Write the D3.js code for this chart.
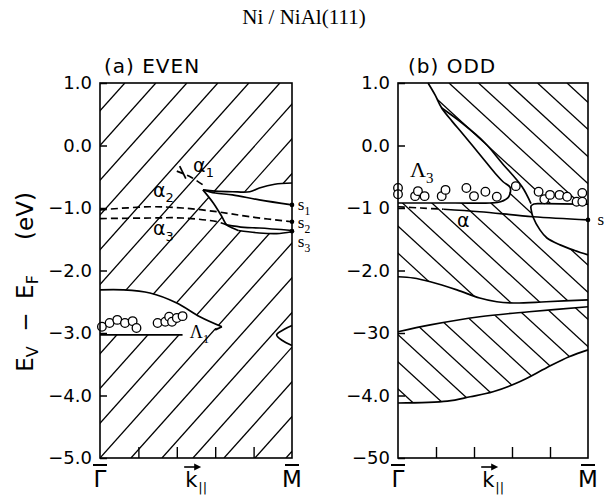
<!DOCTYPE html>
<html>
<head>
<meta charset="utf-8">
<title>Ni/NiAl(111)</title>
<script src="https://cdn.jsdelivr.net/npm/d3@7"></script>
<style>
  body { margin: 0; background: #fff; }
  svg text { font-family: "DejaVu Sans", sans-serif; fill: #000; }
  .serif { font-family: "Liberation Serif", "Times New Roman", serif; }
  .band { fill: none; stroke: #000; stroke-width: 1.7px; stroke-linejoin: round; }
  .dash { stroke-dasharray: 7,4; }
  .hatch line { stroke: #000; stroke-width: 1.3px; }
  .frame { fill: none; stroke: #000; stroke-width: 1.6px; }
  .pt { fill: #fff; stroke: #000; stroke-width: 1.3px; }
</style>
</head>
<body>
<svg id="chart" width="609" height="496"></svg>
<script>
// k runs from Gamma (0) to M (1), energies E_V - E_F in eV
var yTicks = [1, 0, -1, -2, -3, -4, -5];
var tickLabelsEven = ["1.0", "0.0", "−1.0", "−2.0", "−3.0", "−4.0", "−5.0"];
var tickLabelsOdd = ["1.0", "0.0", "−1 0", "−2.0", "−30", "−4.0", "−50"];
var kTicks = [0.2, 0.4, 0.6, 0.8];

// (a) EVEN : gaps in the hatched bulk bands and surface states
var evenGapTop = [[0, -2.31], [0.12, -2.31], [0.26, -2.36], [0.4, -2.52], [0.52, -2.74], [0.635, -2.9]];
var evenGapBottom = [[0, -3.03], [0.43, -3.03]];
var evenGapHook = [[0.635, -2.9], [0.6, -2.95]];
var evenPocketTop = [[0.536, -0.71], [0.6, -0.73], [0.69, -0.74], [0.78, -0.74], [0.83, -0.68], [0.91, -0.62], [1, -0.6]];
var evenPocketLeft = [[0.536, -0.71], [0.59, -0.92], [0.635, -1.14], [0.66, -1.27], [0.69, -1.32], [0.72, -1.36]];
var evenPocketBottom = [[0.72, -1.36], [0.83, -1.4], [0.92, -1.41], [1, -1.38]];
var evenS1 = [[0.536, -0.71], [0.6, -0.76], [0.69, -0.79], [0.83, -0.87], [1, -0.95]];
var evenS3 = [[0.66, -1.27], [0.75, -1.31], [0.83, -1.32], [1, -1.36]];
var evenAlpha1 = [[0.4, -0.41], [0.47, -0.5], [0.55, -0.66]];
var evenAlpha2 = [[0, -1.03], [0.26, -0.98], [0.43, -1.0], [0.61, -1.06], [0.78, -1.14], [1, -1.22]];
var evenAlpha3 = [[0, -1.17], [0.26, -1.16], [0.43, -1.16], [0.61, -1.22], [0.66, -1.27]];
var evenWedge = [[1, -2.88], [0.96, -2.94], [0.92, -3.03], [0.95, -3.12], [1, -3.2]];
var evenSurface = [-0.95, -1.22, -1.37];
var evenK = [0.01, 0.05, 0.09, 0.13, 0.17, 0.19, 0.30, 0.34, 0.36, 0.375, 0.40, 0.43];
var evenE = [-2.90, -2.84, -2.79, -2.84, -2.81, -2.92, -2.84, -2.82, -2.74, -2.82, -2.76, -2.73];

// (b) ODD
var oddCurveA = [[0.158, 1.0], [0.195, 0.81], [0.23, 0.6], [0.284, 0.39], [0.337, 0.2], [0.44, -0.18], [0.51, -0.44],
  [0.553, -0.58], [0.59, -0.67], [0.583, -0.82], [0.54, -0.9], [0.484, -0.92], [0.3, -0.92], [0, -0.92]];
var oddCurveB = [[0.23, 0.6], [0.337, 0.36], [0.458, 0.04], [0.547, -0.28], [0.653, -0.66], [0.70, -0.93]];
var oddPocket = [[1, -0.94], [0.76, -0.93], [0.715, -0.935], [0.70, -0.97], [0.703, -1.06], [0.71, -1.14],
  [0.747, -1.35], [0.784, -1.48], [0.853, -1.59], [0.93, -1.68], [1, -1.75]];
var oddAlpha = [[0, -0.98], [0.12, -1.0], [0.24, -1.02]];
var oddS = [[0.24, -1.02], [0.43, -1.06], [0.71, -1.14], [1, -1.19]];
var oddBand2Bottom = [[0, -2.1], [0.08, -2.12], [0.17, -2.18], [0.31, -2.31], [0.43, -2.44], [0.52, -2.5], [0.61, -2.52], [0.78, -2.5], [1, -2.47]];
var oddBand3Top = [[0, -2.98], [0.17, -2.87], [0.43, -2.74], [0.69, -2.66], [1, -2.58]];
var oddBand3Bottom = [[0, -4.12], [0.26, -4.09], [0.38, -4.02], [0.5, -3.94], [0.64, -3.78], [0.78, -3.56], [0.9, -3.38], [1, -3.27]];
var oddSurface = [-1.19];
var oddK = [0, 0, 0.09, 0.105, 0.14, 0.23, 0.25, 0.36, 0.40, 0.46, 0.52, 0.62, 0.74, 0.77, 0.80, 0.85, 0.89, 0.94, 0.97, 0.97];
var oddE = [-0.68, -0.78, -0.81, -0.73, -0.81, -0.81, -0.71, -0.68, -0.81, -0.74, -0.82, -0.65, -0.74, -0.86, -0.79, -0.79, -0.82, -0.90, -0.76, -0.90];

var svg = d3.select("#chart");
var y = d3.scaleLinear().domain([1, -5]).range([83, 458]);
var xA = d3.scaleLinear().domain([0, 1]).range([100, 292]);
var xB = d3.scaleLinear().domain([0, 1]).range([398, 588]);

function gen(x) {
  return d3.line().x(d => x(d[0])).y(d => y(d[1])).curve(d3.curveCatmullRom.alpha(0.5));
}
function poly(x, parts) {
  var pts = [].concat.apply([], parts);
  return d3.line().x(d => x(d[0])).y(d => y(d[1]))(pts) + "Z";
}
function rev(a) { return a.slice().reverse(); }

var defs = svg.append("defs");

function hatch(x, clipId, slope, sp, ax, ay, dir) {
  var x0 = x.range()[0], x1 = x.range()[1], y0 = y.range()[0], y1 = y.range()[1];
  var cs = [[x0, y0], [x1, y0], [x0, y1], [x1, y1]].map(p => p[0] + dir * p[1] / slope);
  var c0 = ax + dir * ay / slope;
  var lines = [];
  for (var n = Math.floor((d3.min(cs) - c0) / sp); n <= Math.ceil((d3.max(cs) - c0) / sp); n++) {
    var c = c0 + n * sp;
    lines.push([c - dir * y0 / slope, y0, c - dir * y1 / slope, y1]);
  }
  svg.append("g").attr("class", "hatch").attr("clip-path", "url(#" + clipId + ")")
    .selectAll("line").data(lines).join("line")
    .attr("x1", d => d[0]).attr("y1", d => d[1]).attr("x2", d => d[2]).attr("y2", d => d[3]);
}

// ---------- panel (a)
var gA = gen(xA);
var clipA = poly(xA, [[[0, 1], [1, 1], [1, -5], [0, -5]]])
  + poly(xA, [evenGapTop, rev(evenGapBottom)])
  + poly(xA, [evenPocketTop, rev(evenPocketBottom), rev(evenPocketLeft)])
  + poly(xA, [evenWedge]);
defs.append("clipPath").attr("id", "clipA").append("path").attr("d", clipA).attr("clip-rule", "evenodd");
hatch(xA, "clipA", 1.12, 31, xA(0), y(-5), 1);

[evenGapTop, evenGapBottom, evenGapHook, evenPocketTop, evenPocketLeft, evenPocketBottom, evenS1, evenS3, evenWedge]
  .forEach(c => svg.append("path").attr("class", "band").attr("d", gA(c)));
[evenAlpha1, evenAlpha2, evenAlpha3]
  .forEach(c => svg.append("path").attr("class", "band dash").attr("d", gA(c)));
svg.append("line").attr("class", "band")
  .attr("x1", xA(0.415)).attr("y1", y(-0.33)).attr("x2", xA(0.447)).attr("y2", y(-0.53));

svg.append("g").selectAll("circle").data(evenK).join("circle").attr("class", "pt")
  .attr("cx", d => xA(d)).attr("cy", (d, i) => y(evenE[i])).attr("r", 4.3);
svg.append("g").selectAll("circle").data(evenSurface).join("circle")
  .attr("cx", xA(1)).attr("cy", d => y(d)).attr("r", 2.3);

// ---------- panel (b)
var gB = gen(xB);
var clipB = poly(xB, [[oddCurveA[0], [1, 1]], oddPocket, rev(oddBand2Bottom), rev(oddCurveA)])
  + poly(xB, [oddBand3Top, rev(oddBand3Bottom)]);
defs.append("clipPath").attr("id", "clipB").append("path").attr("d", clipB);
hatch(xB, "clipB", 0.92, 29.5, 449, y(1), -1);

[oddCurveA, oddCurveB, oddPocket, oddS, oddBand2Bottom, oddBand3Top, oddBand3Bottom]
  .forEach(c => svg.append("path").attr("class", "band").attr("d", gB(c)));
svg.append("path").attr("class", "band dash").attr("d", gB(oddAlpha));

svg.append("g").selectAll("circle").data(oddK).join("circle").attr("class", "pt")
  .attr("cx", d => xB(d)).attr("cy", (d, i) => y(oddE[i])).attr("r", 4.3);
svg.append("g").selectAll("circle").data(oddSurface).join("circle")
  .attr("cx", xB(1)).attr("cy", d => y(d)).attr("r", 2.3);

// ---------- frames and axes
[[xA, tickLabelsEven], [xB, tickLabelsOdd]].forEach(function (p) {
  var x = p[0];
  svg.append("rect").attr("class", "frame")
    .attr("x", x.range()[0]).attr("y", y(1))
    .attr("width", x.range()[1] - x.range()[0]).attr("height", y(-5) - y(1));
  var ax = svg.append("g").attr("transform", "translate(" + x.range()[0] + ",0)")
    .call(d3.axisLeft(y).tickValues(yTicks).tickSize(-7).tickPadding(8).tickFormat((d, i) => p[1][i]));
  ax.select(".domain").remove();
  ax.attr("font-size", 18).attr("font-family", "DejaVu Sans");
  ax.selectAll("line").attr("stroke-width", 1.5);
  var bx = svg.append("g").attr("transform", "translate(0," + y(-5) + ")")
    .call(d3.axisBottom(x).tickValues(kTicks).tickSize(-11).tickFormat(""));
  bx.select(".domain").remove();
  bx.selectAll("line").attr("stroke-width", 1.4);

  // Gamma, k, M
  [[0, "Γ"], [1, "M"]].forEach(function (q) {
    svg.append("text").attr("x", x(q[0])).attr("y", 487).attr("text-anchor", "middle")
      .attr("font-size", 23).text(q[1]);
    svg.append("line").attr("x1", x(q[0]) - 7).attr("x2", x(q[0]) + 7)
      .attr("y1", 465).attr("y2", 465).attr("stroke", "#000").attr("stroke-width", 2);
  });
  var kx = x(0.48);
  var kt = svg.append("text").attr("x", kx - 7).attr("y", 487).attr("font-size", 21).text("k");
  kt.append("tspan").attr("dy", 5).attr("dx", 1).attr("font-size", 13).text("||");
  svg.append("line").attr("x1", kx - 8).attr("x2", kx + 5).attr("y1", 467).attr("y2", 467)
    .attr("stroke", "#000").attr("stroke-width", 1.6);
  svg.append("path").attr("d", "M" + (kx + 9) + ",467L" + (kx + 2) + ",463.5L" + (kx + 2) + ",470.5Z").attr("fill", "#000");
});

// ---------- labels
svg.append("text").attr("class", "serif").attr("x", 304).attr("y", 24).attr("text-anchor", "middle")
  .attr("font-size", 21).text("Ni / NiAl(111)");
svg.append("text").attr("x", 104).attr("y", 73).attr("font-size", 20).attr("letter-spacing", 1).text("(a) EVEN");
svg.append("text").attr("x", 408).attr("y", 73).attr("font-size", 20).attr("letter-spacing", 1).text("(b) ODD");

// rotated y title, placed piece by piece
function yPiece(cy, main, s) {
  var t = svg.append("text").attr("transform", "translate(33," + cy + ") rotate(-90)")
    .attr("text-anchor", "middle").attr("font-size", 23);
  t.append("tspan").text(main);
  if (s) t.append("tspan").attr("dy", 5).attr("font-size", 16).text(s);
}
yPiece(359, "E", "V");
yPiece(322, "−");
yPiece(287, "E", "F");
yPiece(216, "(eV)");

function sub(x, k, E, main, s, size, cls) {
  var t = svg.append("text").attr("x", x(k)).attr("y", y(E)).attr("font-size", size);
  if (cls) t.attr("class", cls);
  t.append("tspan").text(main);
  t.append("tspan").attr("dy", size * 0.3).attr("font-size", size * 0.68).text(s);
  return t;
}
sub(xA, 0.485, -0.42, "α", "1", 19);
sub(xA, 0.276, -0.82, "α", "2", 19);
sub(xA, 0.276, -1.43, "α", "3", 19);
sub(xA, 0.468, -3.08, "Λ", "1", 18, "serif");
sub(xA, 1.03, -1.03, "s", "1", 17, "serif");
sub(xA, 1.03, -1.32, "s", "2", 17, "serif");
sub(xA, 1.03, -1.62, "s", "3", 17, "serif");
sub(xB, 0.063, -0.5, "Λ", "3", 22, "serif");
svg.append("text").attr("x", xB(0.31)).attr("y", y(-1.3)).attr("font-size", 19).text("α");
svg.append("text").attr("class", "serif").attr("x", xB(1.05)).attr("y", y(-1.27)).attr("font-size", 17).text("s");
</script>
</body>
</html>
